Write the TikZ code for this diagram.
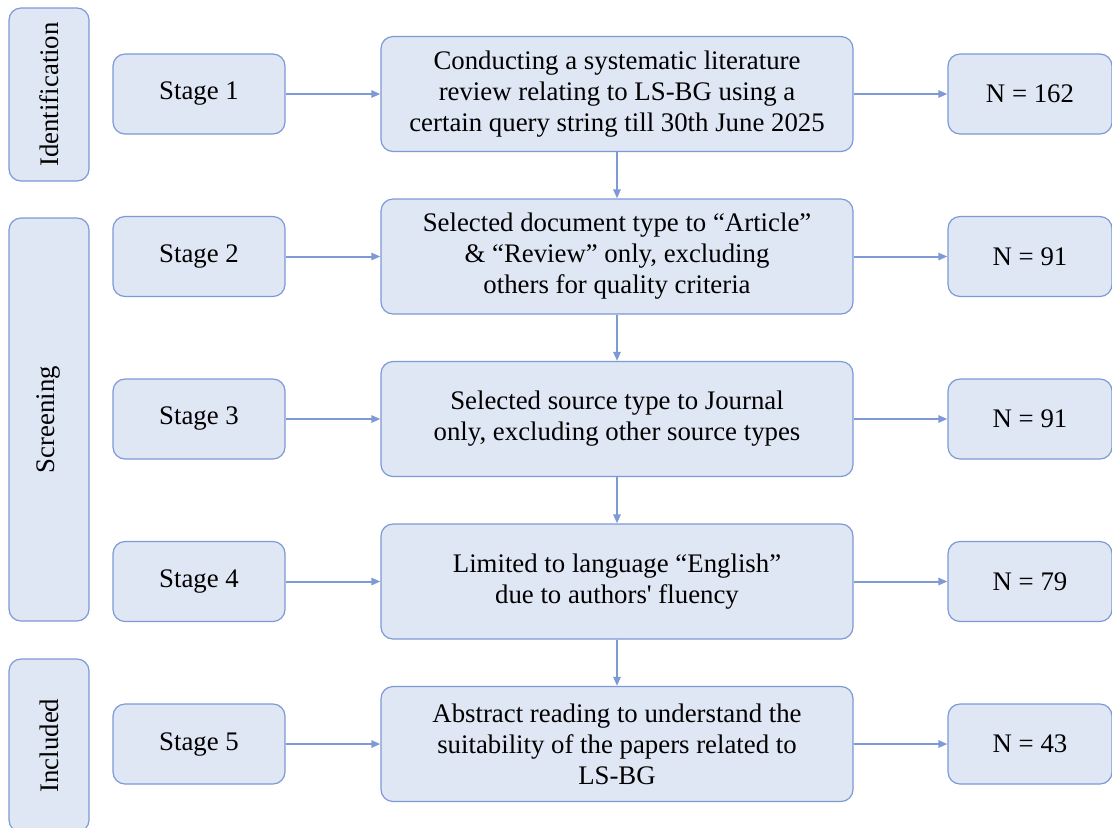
\documentclass[tikz,border=0pt]{standalone}
\usepackage{fontspec}
\setmainfont{Liberation Serif}
\usetikzlibrary{arrows.meta, positioning}

\definecolor{boxfill}{HTML}{DFE6F4}
\definecolor{boxline}{HTML}{7D99D6}

\tikzset{
  box/.style={draw=boxline, fill=boxfill, line width=0.6pt, rounded corners=6pt,
    font=\fontsize{13.4}{15.5}\selectfont, align=center, inner sep=0pt},
  phase/.style={box, minimum height=40pt, rotate=90},
  stagebox/.style={box, minimum width=86pt, minimum height=40pt},
  taskbox/.style={box, minimum width=236pt, minimum height=57.5pt},
  countbox/.style={box, minimum width=82pt, minimum height=40pt},
  link/.style={draw=boxline, line width=1pt, -{Triangle[length=4.5pt,width=3.6pt]}}
}

\begin{document}
\begin{tikzpicture}[x=0.5pt, y=-0.5pt]
\useasboundingbox (0,0) rectangle (1112,827);

% phases
\node[phase, minimum width=86.5pt] (ident) at (49,94.5) {Identification};
\node[phase, minimum width=201.5pt] (screen) at (49,419.5) {Screening};
\node[phase, minimum width=86.5pt] (incl) at (49,745.5) {Included};

% stages
\foreach \i/\y/\txt/\n in {
    1/94/{Conducting a systematic literature\\review relating to LS-BG using a\\certain query string till 30th June 2025}/162,
    2/256.5/{Selected document type to “Article”\\\& “Review” only, excluding\\others for quality criteria}/91,
    3/419/{Selected source type to Journal\\only, excluding other source types}/91,
    4/581.5/{Limited to language “English”\\due to authors\textquotesingle{} fluency}/79,
    5/744/{Abstract reading to understand the\\suitability of the papers related to\\LS-BG}/43} {
    \node[stagebox] (stage\i) at (199,\y) {Stage \i};
    \node[taskbox] (task\i) at (617,\y) {\txt};
    \node[countbox] (count\i) at (1030,\y) {N = \n};
    \draw[link] (stage\i.east) -- (task\i.west);
    \draw[link] (task\i.east) -- (count\i.west);
};

\foreach \a/\b in {1/2, 2/3, 3/4, 4/5} {
    \draw[link] (task\a.south) -- (task\b.north);
};

\end{tikzpicture}
\end{document}
